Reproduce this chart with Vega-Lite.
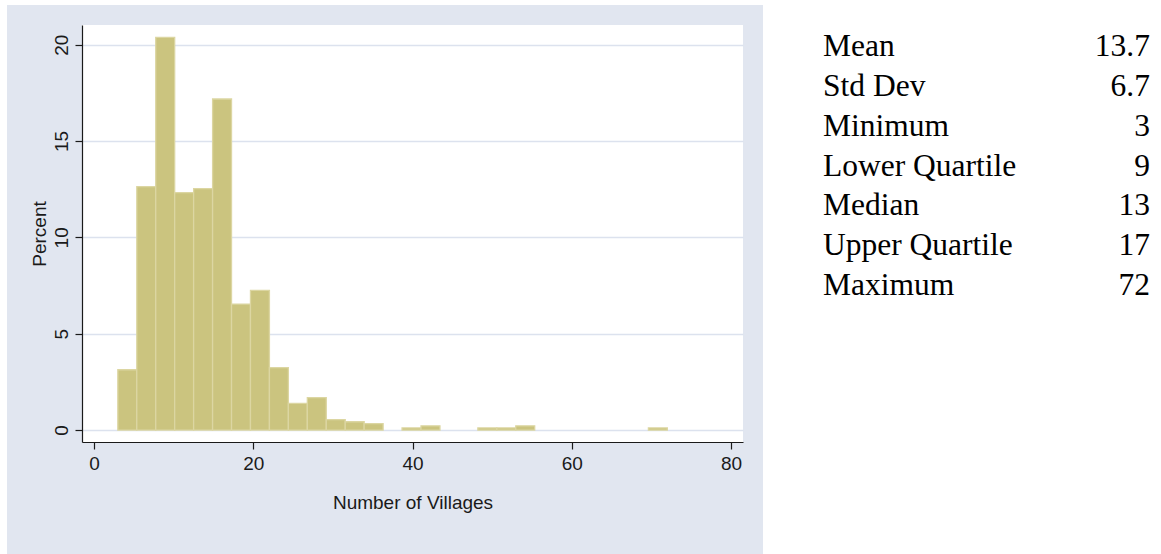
{
  "$schema": "https://vega.github.io/schema/vega-lite/v6.json",
  "background": "#E1E6F0",
  "padding": 0,
  "spacing": 0,
  "config": {
    "view": {"stroke": null},
    "font": "Liberation Sans"
  },
  "vconcat": [
    {
      "width": 1161,
      "height": 5,
      "view": {"fill": "white", "stroke": null},
      "data": {"values": []},
      "mark": "text"
    },
    {
      "spacing": 0,
      "hconcat": [
        {
          "width": 7,
          "height": 549,
          "view": {"fill": "white", "stroke": null},
          "data": {"values": []},
          "mark": "text"
        },
        {
          "width": 22.5,
          "height": 549,
          "data": {"values": []},
          "mark": "text"
        },
        {
          "spacing": 0,
          "vconcat": [
            {
              "width": 661,
              "height": 20,
              "data": {"values": []},
              "mark": "text"
            },
            {
              "width": 661,
              "height": 417,
              "view": {"fill": "white", "stroke": null},
              "data": {
                "values": [
                  {"bin_start": 3.0, "bin_end": 5.3793, "percent": 3.13},
                  {"bin_start": 5.3793, "bin_end": 7.7586, "percent": 12.63},
                  {"bin_start": 7.7586, "bin_end": 10.1379, "percent": 20.38},
                  {"bin_start": 10.1379, "bin_end": 12.5172, "percent": 12.32},
                  {"bin_start": 12.5172, "bin_end": 14.8966, "percent": 12.53},
                  {"bin_start": 14.8966, "bin_end": 17.2759, "percent": 17.18},
                  {"bin_start": 17.2759, "bin_end": 19.6552, "percent": 6.54},
                  {"bin_start": 19.6552, "bin_end": 22.0345, "percent": 7.25},
                  {"bin_start": 22.0345, "bin_end": 24.4138, "percent": 3.24},
                  {"bin_start": 24.4138, "bin_end": 26.7931, "percent": 1.38},
                  {"bin_start": 26.7931, "bin_end": 29.1724, "percent": 1.68},
                  {"bin_start": 29.1724, "bin_end": 31.5517, "percent": 0.54},
                  {"bin_start": 31.5517, "bin_end": 33.931, "percent": 0.43},
                  {"bin_start": 33.931, "bin_end": 36.3103, "percent": 0.33},
                  {"bin_start": 38.6897, "bin_end": 41.069, "percent": 0.11},
                  {"bin_start": 41.069, "bin_end": 43.4483, "percent": 0.22},
                  {"bin_start": 48.2069, "bin_end": 50.5862, "percent": 0.11},
                  {"bin_start": 50.5862, "bin_end": 52.9655, "percent": 0.11},
                  {"bin_start": 52.9655, "bin_end": 55.3448, "percent": 0.22},
                  {"bin_start": 69.6207, "bin_end": 72.0, "percent": 0.11}
                ]
              },
              "mark": {"type": "rect", "fill": "#CBC47F", "stroke": "#DCD6A2", "strokeWidth": 1.3},
              "encoding": {
                "x": {
                  "field": "bin_start",
                  "type": "quantitative",
                  "scale": {"domain": [-1.5, 81.5], "nice": false, "zero": false},
                  "axis": {
                    "values": [0, 20, 40, 60, 80],
                    "title": "Number of Villages",
                    "grid": false,
                    "domainColor": "#1A1A1A",
                    "domainWidth": 1.2,
                    "tickColor": "#1A1A1A",
                    "tickSize": 7,
                    "tickWidth": 1.2,
                    "labelFont": "Liberation Sans",
                    "labelFontSize": 19,
                    "labelColor": "#1A1A1A",
                    "labelPadding": 5,
                    "labelFlush": false,
                    "titleFont": "Liberation Sans",
                    "titleFontSize": 19,
                    "titleFontWeight": "normal",
                    "titleColor": "#1A1A1A",
                    "titleBaseline": "alphabetic",
                    "titleAlign": "center",
                    "titleX": 330.5,
                    "titleY": 66.5
                  }
                },
                "x2": {"field": "bin_end"},
                "y": {
                  "field": "percent",
                  "type": "quantitative",
                  "scale": {"domain": [-0.62, 21.02], "nice": false, "zero": false},
                  "axis": {
                    "values": [0, 5, 10, 15, 20],
                    "title": "Percent",
                    "grid": true,
                    "gridColor": "#DCE2EE",
                    "gridWidth": 1.5,
                    "domainColor": "#1A1A1A",
                    "domainWidth": 1.2,
                    "tickColor": "#1A1A1A",
                    "tickSize": 7,
                    "tickWidth": 1.2,
                    "labelFont": "Liberation Sans",
                    "labelFontSize": 19,
                    "labelColor": "#1A1A1A",
                    "labelAngle": -90,
                    "labelAlign": "center",
                    "labelBaseline": "alphabetic",
                    "labelPadding": 8,
                    "labelFlush": false,
                    "titleFont": "Liberation Sans",
                    "titleFontSize": 19,
                    "titleFontWeight": "normal",
                    "titleColor": "#1A1A1A",
                    "titleAngle": -90,
                    "titleBaseline": "alphabetic",
                    "titleAlign": "center",
                    "titleX": -37,
                    "titleY": 208.5
                  }
                },
                "y2": {"datum": 0}
              }
            }
          ]
        },
        {
          "width": 20,
          "height": 549,
          "data": {"values": []},
          "mark": "text"
        },
        {
          "width": 398,
          "height": 549,
          "view": {"fill": "white", "stroke": null},
          "data": {
            "values": [
              {"stat": "Mean", "value": "13.7"},
              {"stat": "Std Dev", "value": "6.7"},
              {"stat": "Minimum", "value": "3"},
              {"stat": "Lower Quartile", "value": "9"},
              {"stat": "Median", "value": "13"},
              {"stat": "Upper Quartile", "value": "17"},
              {"stat": "Maximum", "value": "72"}
            ]
          },
          "transform": [
            {"window": [{"op": "row_number", "as": "line"}]}
          ],
          "encoding": {
            "y": {
              "field": "line",
              "type": "quantitative",
              "scale": {"domain": [-0.2822, 13.5015], "nice": false, "zero": false, "reverse": true},
              "axis": null
            }
          },
          "layer": [
            {
              "mark": {"type": "text", "align": "left", "baseline": "alphabetic", "font": "Liberation Serif", "fontSize": 31.5, "color": "#000000"},
              "encoding": {
                "x": {
                  "datum": "stat",
                  "type": "nominal",
                  "scale": {"type": "point", "domain": ["stat", "value"], "padding": 0.1086, "align": 0.845},
                  "axis": null
                },
                "text": {"field": "stat"}
              }
            },
            {
              "mark": {"type": "text", "align": "right", "baseline": "alphabetic", "font": "Liberation Serif", "fontSize": 31.5, "color": "#000000"},
              "encoding": {
                "x": {"datum": "value", "type": "nominal"},
                "text": {"field": "value"}
              }
            }
          ]
        }
      ]
    }
  ]
}
